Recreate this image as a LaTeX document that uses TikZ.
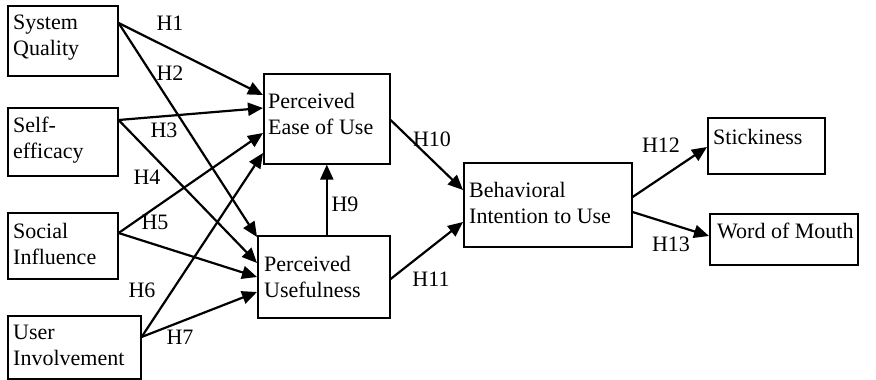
\documentclass[tikz,border=0pt]{standalone}
\usepackage{fontspec}
\setmainfont{Liberation Serif}
\usetikzlibrary{arrows.meta}
\tikzset{
  box/.style={draw, line width=1.6pt, anchor=north west, inner sep=0pt},
  txt/.style={anchor=north west, inner sep=0pt, align=left, font=\fontsize{22}{26}\selectfont},
  hlab/.style={inner sep=0pt, font=\fontsize{22}{26}\selectfont},
  arr/.style={line width=2.2pt, -{Triangle[length=15pt,width=13pt]}}
}
\begin{document}
\begin{tikzpicture}[x=1pt,y=-1pt]
\useasboundingbox (0,0) rectangle (876,380);
% boxes
\node[box, minimum width=110pt, minimum height=70pt] (sq) at (7,5) {};
\node[box, minimum width=110pt, minimum height=68pt] (se) at (7,107) {};
\node[box, minimum width=110pt, minimum height=66pt] (si) at (7,212) {};
\node[box, minimum width=133pt, minimum height=63pt] (ui) at (7,315) {};
\node[box, minimum width=126pt, minimum height=90pt] (peou) at (263,73) {};
\node[box, minimum width=132pt, minimum height=82pt] (pu) at (257,235) {};
\node[box, minimum width=168pt, minimum height=84pt] (bi) at (463,162) {};
\node[box, minimum width=117pt, minimum height=56pt] (st) at (707,117) {};
\node[box, minimum width=148pt, minimum height=51pt] (wom) at (709,213) {};
% texts
\node[txt] (sqt) at (13,15) {System\\Quality};
\node[txt] (set) at (13,117) {Self-\\efficacy};
\node[txt] (sit) at (13,223) {Social\\Influence};
\node[txt] (uit) at (13,325) {User\\Involvement};
\node[txt] (peout) at (268,93) {Perceived\\Ease of Use};
\node[txt] (put) at (264,256) {Perceived\\Usefulness};
\node[txt] (bit) at (469,182) {Behavioral\\Intention to Use};
\node[txt] (stt) at (713,129) {Stickiness};
\node[txt] (womt) at (717,223) {Word of Mouth};
% arrows
\draw[arr] ([yshift=-18pt]sq.north east) -- ([yshift=-22pt]peou.north west);
\draw[arr] ([yshift=-18pt]sq.north east) -- ([yshift=-2pt]pu.north west);
\draw[arr] ([yshift=-13pt]se.north east) -- ([yshift=-35pt]peou.north west);
\draw[arr] ([yshift=-13pt]se.north east) -- ([yshift=-28pt]pu.north west);
\draw[arr] ([yshift=-21pt]si.north east) -- ([yshift=-60pt]peou.north west);
\draw[arr] ([yshift=-21pt]si.north east) -- ([yshift=-42pt]pu.north west);
\draw[arr] ([yshift=-22pt]ui.north east) -- ([yshift=-80pt]peou.north west);
\draw[arr] ([yshift=-22pt]ui.north east) -- ([yshift=-57pt]pu.north west);
\draw[arr] (pu.north -| peou.south) -- (peou.south);
\draw[arr] ([yshift=-47pt]peou.north east) -- ([yshift=-28pt]bi.north west);
\draw[arr] ([yshift=-44pt]pu.north east) -- ([yshift=-60pt]bi.north west);
\draw[arr] ([yshift=-35pt]bi.north east) -- ([yshift=-30pt]st.north west);
\draw[arr] ([yshift=-50pt]bi.north east) -- ([yshift=-23pt]wom.north west);
% labels
\node[hlab] (h1) at (170,23.5) {H1};
\node[hlab] (h2) at (170,73.5) {H2};
\node[hlab] (h3) at (164,130.5) {H3};
\node[hlab] (h4) at (147,177.5) {H4};
\node[hlab] (h5) at (155,222.5) {H5};
\node[hlab] (h6) at (142,290.5) {H6};
\node[hlab] (h7) at (180,337.5) {H7};
\node[hlab] (h9) at (345,204.5) {H9};
\node[hlab] (h10) at (432,139.5) {H10};
\node[hlab] (h11) at (431,279.5) {H11};
\node[hlab] (h12) at (661,145.5) {H12};
\node[hlab] (h13) at (671,244.5) {H13};
\end{tikzpicture}
\end{document}
